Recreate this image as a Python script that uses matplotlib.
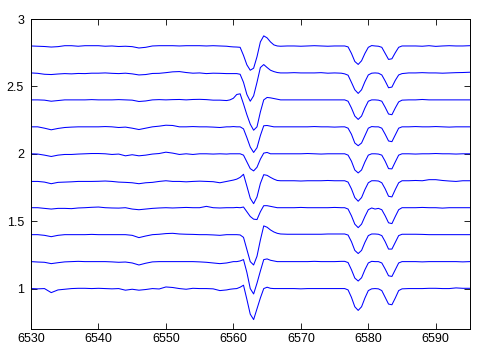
import numpy as np
import matplotlib
matplotlib.use('Agg')
import matplotlib.pyplot as plt

# wavelength nodes (Angstrom): coarse on the continuum, finer over the lines
wave = np.concatenate([
    np.arange(6530, 6560),            # continuum
    np.arange(6559.5, 6567.25, 0.5),  # H-alpha
    np.arange(6568, 6577),            # continuum
    np.arange(6576.5, 6585.25, 0.5),  # the two red lines
    np.arange(6586, 6596),            # continuum
])

# normalised flux, top spectrum first
flux_1 = [1.0, 0.998, 0.996, 0.992, 0.995, 1.002, 1.002, 0.998, 1.002, 1.002,
          1.002, 0.998, 1.0, 0.996, 0.998, 0.995, 0.985, 0.99, 1.0, 1.002,
          1.002, 1.002, 1.0, 1.002, 1.002, 1.002, 1.0, 1.002, 1.0, 0.998,
          0.995, 0.993, 0.992, 0.99, 0.93, 0.86, 0.82, 0.835, 0.92, 1.03,
          1.075, 1.06, 1.03, 1.008, 1.0, 0.998,
          1.0, 1.0, 0.998, 1.0, 1.002, 1.0, 0.998, 1.0, 1.0,
          1.0, 0.993, 0.945, 0.885, 0.863, 0.89, 0.945, 0.99, 1.003, 1.0,
          0.998, 0.99, 0.945, 0.9, 0.905, 0.95, 0.99, 1.0,
          1.0, 1.0, 0.998, 1.002, 0.997, 1.0, 1.002, 1.0, 1.0, 1.002]
flux_2 = [1.0, 0.997, 0.99, 0.988, 0.992, 0.995, 0.993, 0.996, 0.995, 0.998,
          0.998, 1.0, 0.997, 0.995, 0.998, 0.993, 0.985, 0.988, 0.996, 0.997,
          1.002, 1.008, 1.01, 1.003, 0.998, 1.0, 0.995, 0.998, 0.997, 0.995,
          0.995, 0.995, 0.995, 0.99, 0.93, 0.84, 0.79, 0.83, 0.93, 1.04,
          1.062, 1.04, 1.02, 1.01, 1.003, 1.0,
          1.0, 1.002, 1.0, 1.0, 1.0, 1.002, 0.998, 1.0, 0.998,
          0.993, 0.983, 0.93, 0.875, 0.848, 0.875, 0.935, 0.985, 0.998, 1.0,
          0.998, 0.985, 0.94, 0.89, 0.895, 0.945, 0.985, 0.995,
          1.0, 1.0, 1.002, 1.0, 1.0, 0.998, 1.0, 1.002, 1.003, 1.005]
flux_3 = [1.0, 1.0, 0.998, 0.99, 0.995, 1.0, 1.0, 1.0, 1.0, 1.002,
          1.0, 1.0, 1.0, 1.002, 1.0, 0.998, 0.988, 0.992, 1.0, 1.002,
          1.0, 1.002, 1.003, 1.0, 1.003, 1.004, 1.002, 0.998, 0.998, 0.995,
          1.0, 1.012, 1.04, 1.045, 0.97, 0.89, 0.82, 0.775, 0.8, 0.91,
          1.0, 1.018, 1.015, 1.01, 1.005, 1.0,
          1.0, 1.0, 1.0, 1.0, 1.0, 1.0, 1.0, 1.0, 1.0,
          1.0, 0.99, 0.94, 0.88, 0.855, 0.88, 0.94, 0.99, 1.0, 1.0,
          0.998, 0.99, 0.945, 0.895, 0.89, 0.94, 0.985, 0.998,
          1.0, 1.0, 1.003, 1.0, 1.0, 1.0, 1.0, 1.0, 1.0, 1.0]
flux_4 = [1.0, 1.0, 0.99, 0.978, 0.988, 0.995, 0.998, 1.0, 1.0, 1.0,
          1.0, 1.002, 1.0, 0.995, 0.998, 0.99, 0.98, 0.99, 1.0, 1.005,
          1.012, 1.01, 1.0, 1.0, 1.002, 1.0, 1.0, 0.998, 0.995, 1.0,
          1.0, 1.002, 1.0, 1.0, 0.985, 0.92, 0.85, 0.81, 0.845, 0.935,
          1.008, 1.01, 1.005, 1.0, 1.0, 1.0,
          1.0, 1.0, 1.0, 1.0, 1.002, 1.0, 1.0, 0.998, 1.0,
          1.0, 0.99, 0.945, 0.88, 0.86, 0.88, 0.935, 0.99, 1.002, 1.0,
          1.0, 0.99, 0.945, 0.895, 0.89, 0.94, 0.99, 1.0,
          1.0, 1.002, 1.0, 1.0, 1.002, 1.0, 0.998, 1.0, 1.0, 1.0]
flux_5 = [1.0, 0.998, 0.99, 0.98, 0.99, 0.995, 0.995, 0.998, 1.0, 1.002,
          1.002, 1.0, 0.995, 0.998, 0.985, 0.993, 0.985, 0.99, 0.998, 1.002,
          1.012, 1.005, 0.995, 1.0, 0.995, 1.0, 1.0, 0.998, 1.0, 0.998,
          1.0, 1.0, 1.0, 1.0, 0.99, 0.94, 0.89, 0.873, 0.9, 0.96,
          1.005, 1.01, 1.0, 1.0, 1.0, 1.0,
          1.0, 1.0, 1.0, 1.002, 1.0, 0.998, 1.0, 1.0, 1.0,
          1.0, 0.99, 0.945, 0.88, 0.858, 0.88, 0.94, 0.99, 1.0, 1.0,
          0.998, 0.99, 0.945, 0.89, 0.888, 0.94, 0.99, 1.0,
          1.0, 0.998, 1.0, 1.0, 1.002, 1.0, 1.0, 0.998, 1.0, 1.0]
flux_6 = [0.995, 0.995, 0.99, 0.978, 0.988, 0.99, 0.992, 0.995, 0.995, 0.995,
          0.996, 0.998, 0.995, 0.99, 0.988, 0.985, 0.978, 0.985, 0.988, 0.995,
          1.0, 0.995, 0.995, 0.992, 0.995, 0.997, 0.995, 0.993, 0.985, 0.995,
          1.0, 1.005, 1.012, 1.025, 1.048, 0.96, 0.87, 0.83, 0.88, 0.98,
          1.045, 1.04, 1.025, 1.012, 1.002, 1.0,
          1.0, 1.0, 0.998, 1.0, 1.0, 1.0, 1.002, 1.0, 1.0,
          1.0, 0.99, 0.94, 0.875, 0.848, 0.875, 0.935, 0.985, 1.0, 1.0,
          0.998, 0.985, 0.94, 0.885, 0.88, 0.935, 0.985, 1.0,
          1.0, 1.002, 1.0, 1.008, 1.008, 1.002, 0.998, 0.995, 1.0, 1.0]
flux_7 = [1.0, 1.0, 0.995, 0.99, 0.995, 0.995, 0.993, 0.998, 1.0, 1.003,
          1.005, 1.0, 0.998, 0.997, 1.0, 0.99, 0.985, 0.99, 0.995, 0.998,
          1.0, 0.998, 1.0, 1.002, 1.0, 1.0, 1.01, 1.0, 0.998, 1.0,
          1.0, 1.0, 1.002, 1.0, 1.005, 0.97, 0.935, 0.915, 0.912, 0.97,
          1.015, 1.015, 1.01, 1.005, 1.0, 1.0,
          1.0, 1.0, 1.002, 1.0, 1.0, 1.0, 1.0, 1.002, 1.0,
          1.0, 0.99, 0.94, 0.878, 0.852, 0.878, 0.935, 0.985, 0.998, 0.99,
          0.995, 0.985, 0.94, 0.888, 0.882, 0.935, 0.985, 1.0,
          1.0, 1.0, 1.002, 1.0, 1.0, 0.997, 1.0, 1.0, 1.0, 1.0]
flux_8 = [1.0, 1.0, 0.995, 0.985, 0.995, 1.0, 1.0, 1.0, 1.0, 1.002,
          1.0, 1.0, 1.0, 1.0, 1.0, 0.995, 0.978, 0.99, 1.0, 1.003,
          1.008, 1.01, 1.005, 1.003, 1.002, 1.0, 1.0, 0.998, 0.995, 1.0,
          1.0, 1.0, 1.0, 0.998, 0.98, 0.89, 0.8, 0.775, 0.84, 0.96,
          1.065, 1.055, 1.035, 1.02, 1.01, 1.005,
          1.003, 1.003, 1.003, 1.003, 1.003, 1.003, 1.005, 1.005, 1.005,
          1.005, 0.997, 0.948, 0.883, 0.86, 0.883, 0.943, 0.993, 1.005, 1.005,
          1.003, 0.993, 0.948, 0.893, 0.893, 0.943, 0.993, 1.003,
          1.003, 1.003, 1.002, 1.0, 1.0, 1.0, 1.0, 1.0, 1.0, 1.0]
flux_9 = [1.0, 0.997, 0.995, 0.985, 0.992, 0.998, 1.0, 1.002, 1.0, 1.0,
          1.0, 1.0, 0.998, 0.995, 0.997, 0.99, 0.975, 0.988, 0.998, 1.0,
          1.0, 1.0, 1.0, 1.0, 1.0, 0.998, 0.995, 0.99, 0.985, 0.99,
          0.995, 1.0, 1.0, 1.005, 1.015, 0.92, 0.8, 0.76, 0.84, 0.93,
          1.015, 1.02, 1.01, 1.005, 1.0, 1.0,
          1.0, 1.0, 1.0, 1.0, 1.002, 1.0, 1.0, 1.0, 1.002,
          1.002, 0.993, 0.94, 0.878, 0.856, 0.88, 0.94, 0.99, 1.002, 1.0,
          1.0, 0.99, 0.945, 0.895, 0.89, 0.94, 0.99, 1.0,
          1.0, 1.0, 0.998, 1.0, 1.0, 1.0, 1.0, 1.0, 0.998, 1.0]
flux_10 = [1.0, 0.998, 1.0, 0.97, 0.99, 0.995, 1.0, 1.002, 1.002, 1.0,
           1.002, 1.0, 0.998, 1.0, 0.988, 0.995, 0.988, 0.993, 1.0, 0.997,
           1.012, 1.008, 1.0, 0.995, 1.002, 1.0, 1.0, 0.998, 0.985, 0.99,
           0.995, 0.998, 1.0, 1.01, 1.025, 0.92, 0.81, 0.77, 0.85, 0.93,
           1.0, 1.01, 1.002, 1.0, 1.0, 1.0,
           1.0, 1.0, 0.998, 1.0, 1.0, 1.0, 1.0, 1.0, 1.0,
           1.0, 0.99, 0.935, 0.865, 0.838, 0.865, 0.93, 0.985, 0.998, 1.0,
           0.998, 0.985, 0.935, 0.885, 0.88, 0.93, 0.985, 0.998,
           1.0, 1.0, 1.0, 1.002, 1.002, 1.0, 1.0, 1.005, 1.002, 1.002]

spectra = [flux_1, flux_2, flux_3, flux_4, flux_5,
           flux_6, flux_7, flux_8, flux_9, flux_10]
offsets = [1.8, 1.6, 1.4, 1.2, 1.0, 0.8, 0.6, 0.4, 0.2, 0.0]

x_ticks = [6530, 6540, 6550, 6560, 6570, 6580, 6590]
y_ticks = [1, 1.5, 2, 2.5, 3]


def main():
    plt.rcParams['font.family'] = ['Liberation Sans', 'DejaVu Sans']
    fig = plt.figure(figsize=(4.88, 3.54), dpi=100)
    ax = fig.add_axes([0.0635, 0.0706, 0.8986, 0.8757])

    for flux, off in zip(spectra, offsets):
        assert len(flux) == len(wave)
        ax.plot(wave, np.array(flux) + off, color='#0000ff', lw=0.75)

    ax.set_xlim(6530, 6595)
    ax.set_ylim(0.7, 3)
    ax.set_xticks(x_ticks)
    ax.set_yticks(y_ticks)
    ax.set_yticklabels(['1', '1.5', '2', '2.5', '3'])
    ax.tick_params(direction='in', top=True, right=True, length=4,
                   width=0.6, labelsize=9)
    ax.tick_params(axis='x', pad=3)
    ax.tick_params(axis='y', pad=5)
    for sp in ax.spines.values():
        sp.set_linewidth(0.7)

    fig.savefig('out.png', dpi=100)


if __name__ == "__main__":
    main()
